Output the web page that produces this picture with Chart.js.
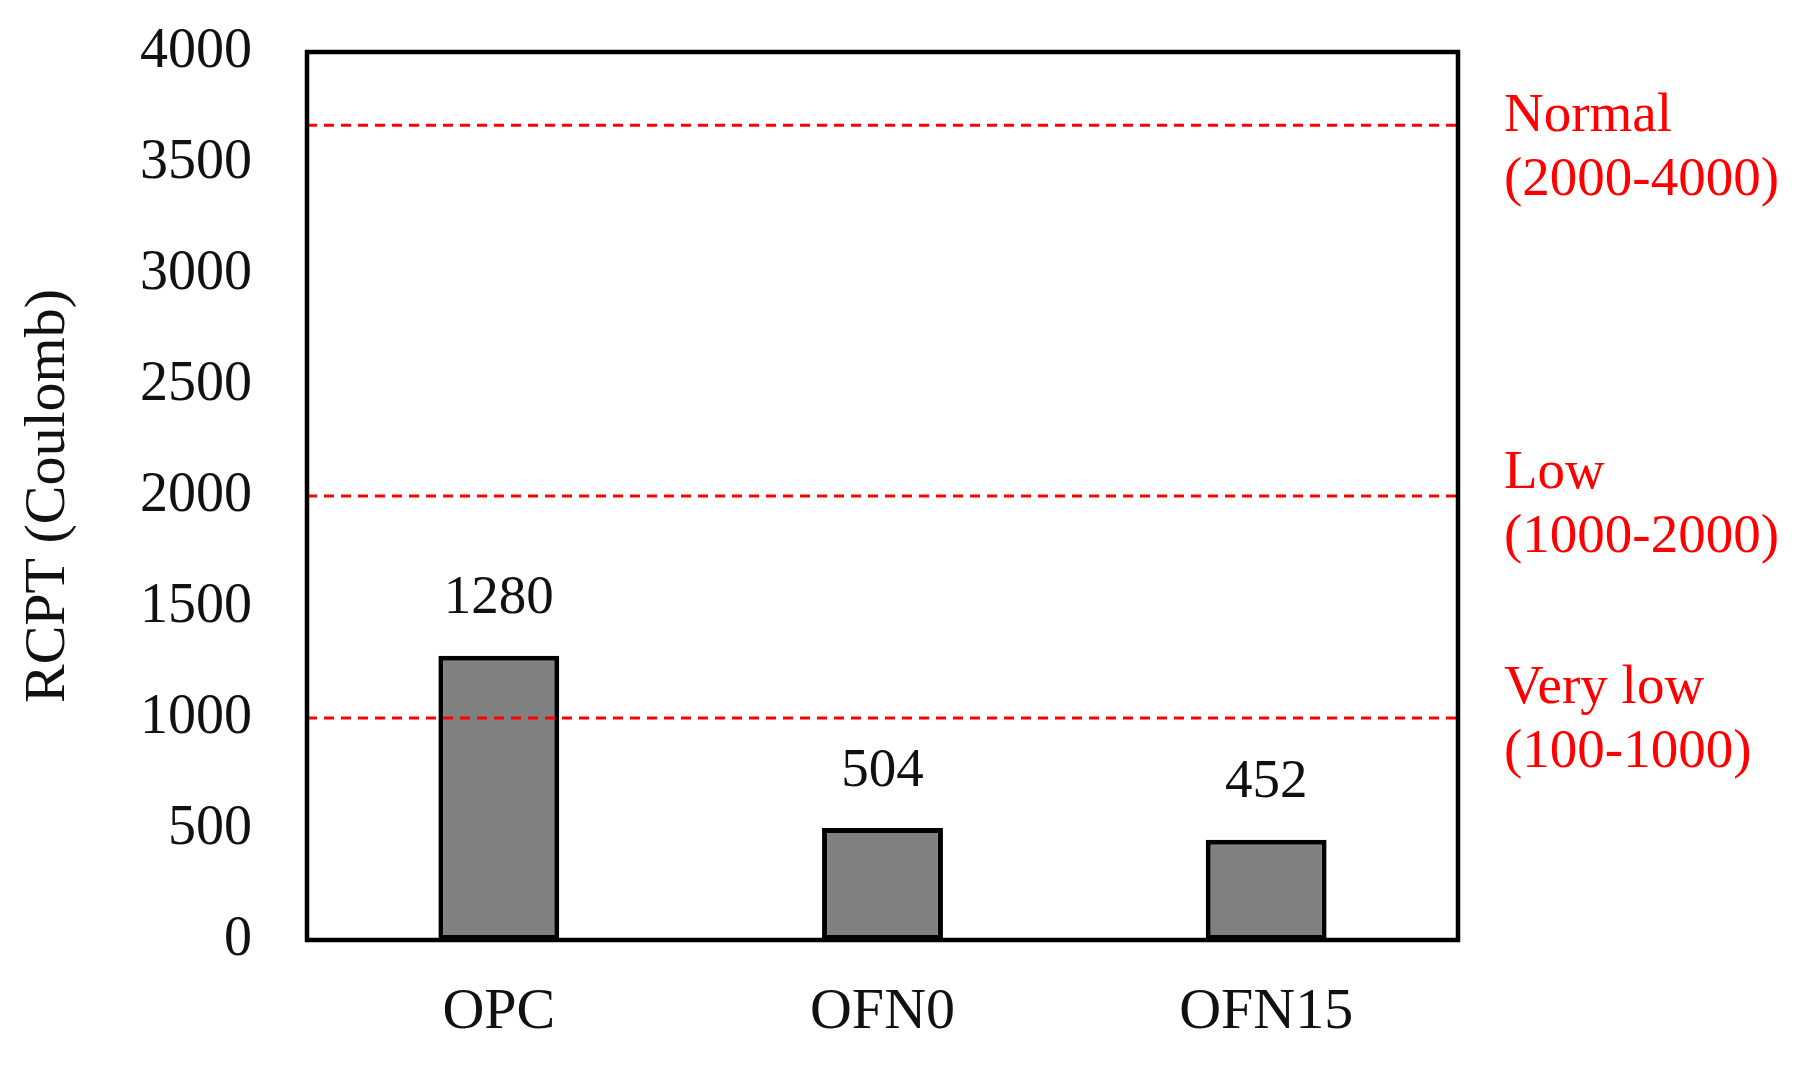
<!DOCTYPE html>
<html>
<head>
<meta charset="utf-8">
<script src="https://cdn.jsdelivr.net/npm/chart.js@4/dist/chart.umd.min.js"></script>
<style>
  html, body { margin: 0; padding: 0; background: #fff; }
  #wrap { width: 1815px; height: 1071px; }
</style>
</head>
<body>
<div id="wrap"><canvas id="rcpt"></canvas></div>
<script>
const categories = ["OPC", "OFN0", "OFN15"];
const rcptValues = [1280, 504, 452];
const yMax = 4000;
const yStep = 500;

// class limit lines (dashed red) and their right-hand labels
const limitLines = [3670, 2000, 1000];
const classNames = ["Normal", "Low", "Very low"];
const classRanges = ["(2000-4000)", "(1000-2000)", "(100-1000)"];
const classLabelAt = [3580, 1970, 1000];

const serif = "'Liberation Serif', 'Times New Roman', serif";

const overlay = {
  id: "overlay",
  afterDatasetsDraw(chart) {
    const { ctx, chartArea: a, scales } = chart;
    const y = scales.y, x = scales.x;
    ctx.save();

    // dashed limit lines
    ctx.strokeStyle = "#ff0000";
    ctx.lineWidth = 3;
    ctx.setLineDash([10, 7]);
    limitLines.forEach(v => {
      const py = y.getPixelForValue(v);
      ctx.beginPath();
      ctx.moveTo(a.left, py);
      ctx.lineTo(a.right, py);
      ctx.stroke();
    });
    ctx.setLineDash([]);

    // red class labels
    ctx.fillStyle = "#ff0000";
    ctx.font = "55px " + serif;
    ctx.textAlign = "left";
    ctx.textBaseline = "middle";
    classNames.forEach((name, i) => {
      const py = y.getPixelForValue(classLabelAt[i]);
      ctx.fillText(name, a.right + 46, py - 29);
      ctx.fillText(classRanges[i], a.right + 46, py + 35);
    });

    // value labels above bars
    ctx.fillStyle = "#111";
    ctx.font = "55px " + serif;
    ctx.textAlign = "center";
    rcptValues.forEach((v, i) => {
      ctx.fillText(String(v), x.getPixelForValue(i), y.getPixelForValue(v) - 57);
    });

    // plot frame
    ctx.strokeStyle = "#000";
    ctx.lineWidth = 4.5;
    ctx.strokeRect(a.left, a.top, a.right - a.left, a.bottom - a.top);
    ctx.restore();
  }
};

new Chart(document.getElementById("rcpt"), {
  type: "bar",
  data: {
    labels: categories,
    datasets: [{
      data: rcptValues,
      backgroundColor: "#808080",
      borderColor: "#000",
      borderWidth: 5,
      borderSkipped: false,
      categoryPercentage: 1,
      barPercentage: 0.315
    }]
  },
  options: {
    responsive: true,
    maintainAspectRatio: false,
    animation: false,
    layout: { padding: { left: 0, top: 52, right: 357, bottom: 0 } },
    plugins: { legend: { display: false }, tooltip: { enabled: false } },
    scales: {
      x: {
        grid: { display: false, drawTicks: false },
        border: { display: false },
        ticks: { color: "#111", font: { family: serif, size: 58 }, padding: 38 },
        afterFit(s) { s.height = 131; s.paddingLeft = 0; s.paddingRight = 0; }
      },
      y: {
        min: 0,
        max: yMax,
        grid: { display: false, drawTicks: false },
        border: { display: false },
        ticks: {
          stepSize: yStep,
          color: "#111",
          font: { family: serif, size: 56 },
          padding: 55,
          callback: v => String(v)
        },
        title: {
          display: true,
          text: "RCPT (Coulomb)",
          color: "#111",
          font: { family: serif, size: 58 },
          padding: { top: 14, bottom: 0 }
        },
        afterFit(s) { s.width = 307; s.paddingTop = 0; s.paddingBottom = 0; }
      }
    }
  },
  plugins: [overlay]
});
</script>
</body>
</html>
